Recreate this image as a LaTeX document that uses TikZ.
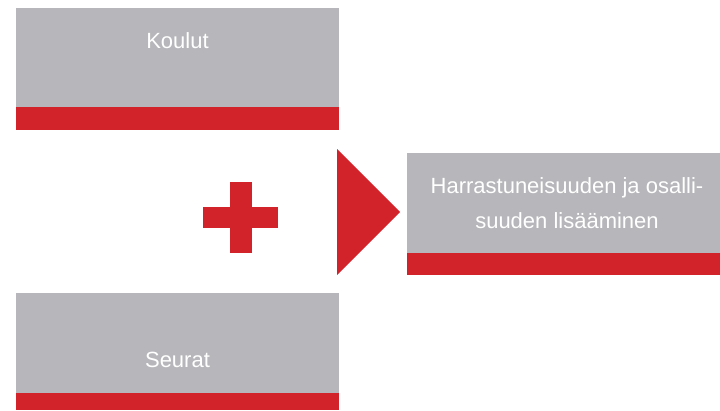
\documentclass[tikz,border=0pt]{standalone}
\usepackage{fontspec}
\setmainfont{Liberation Sans}
\definecolor{boxgray}{HTML}{B7B6BA}
\definecolor{barred}{HTML}{D2232A}
\begin{document}
\begin{tikzpicture}[x=1pt,y=-1pt,
  graybox/.style={fill=boxgray, draw=none, inner sep=0pt, anchor=north west},
  redbar/.style={fill=barred, draw=none, inner sep=0pt, anchor=north west},
  label/.style={text=white, anchor=base, inner sep=0pt, font=\fontsize{22}{26}\selectfont}]
\useasboundingbox (0,0) rectangle (720,410);
% box 1
\node[graybox, minimum width=323pt, minimum height=99pt] (b1) at (16,8) {};
\node[redbar, minimum width=323pt, minimum height=23pt] (r1) at (16,107) {};
\node[label] (t1) at (177.5,48.3) {Koulut};
% box 2
\node[graybox, minimum width=323pt, minimum height=100pt] (b2) at (16,293) {};
\node[redbar, minimum width=323pt, minimum height=17pt] (r2) at (16,393) {};
\node[label] (t2) at (177.5,367.7) {Seurat};
% box 3
\node[graybox, minimum width=313pt, minimum height=100pt] (b3) at (407,153) {};
\node[redbar, minimum width=313pt, minimum height=22pt] (r3) at (407,253) {};
\node[label] (t3a) at (567,193.3) {Harrastuneisuuden ja osalli-};
\node[label] (t3b) at (567,228) {suuden lisääminen};
% plus
\fill[barred] (230,182) rectangle (252,253);
\fill[barred] (203,207) rectangle (278,228);
% triangle
\fill[barred] (337,149) -- (400,212) -- (337,275) -- cycle;
\end{tikzpicture}
\end{document}
